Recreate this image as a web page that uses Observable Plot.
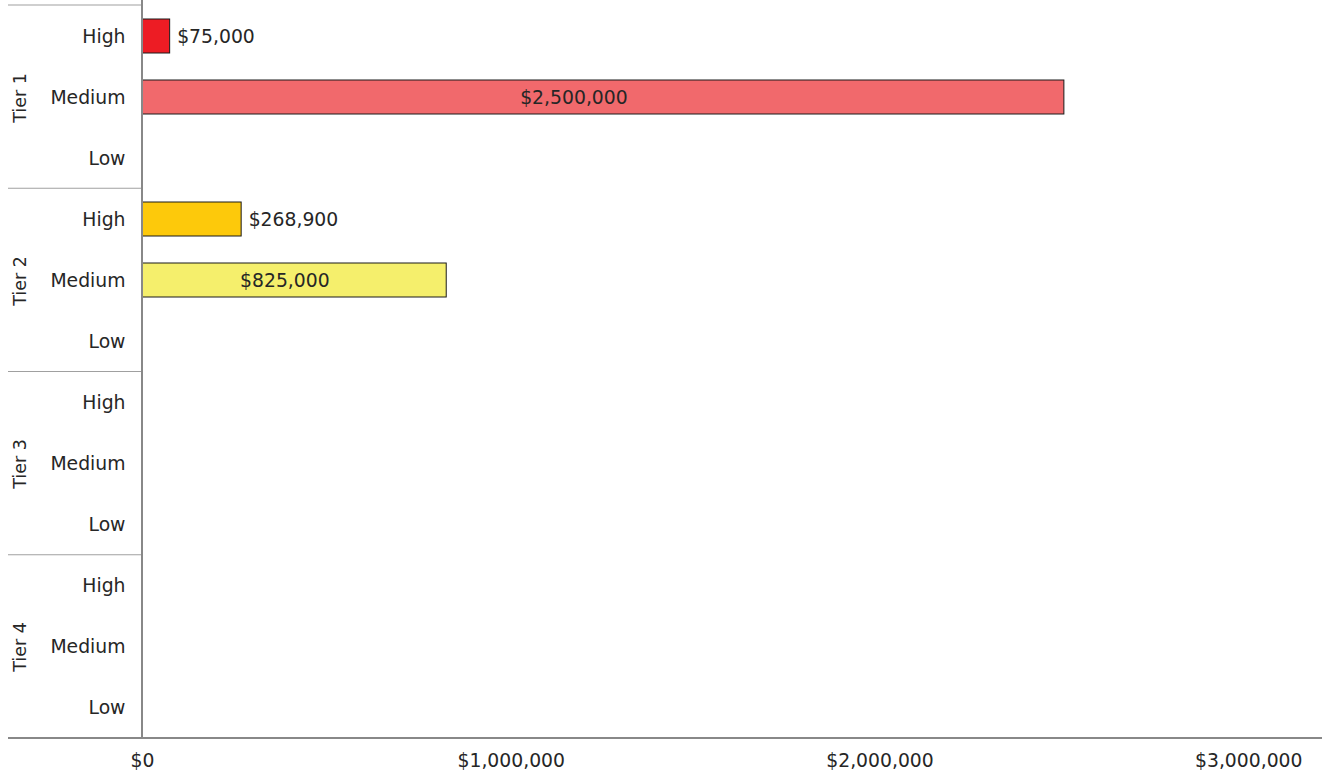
<!DOCTYPE html>
<html>
<head>
<meta charset="utf-8">
<script src="https://cdn.jsdelivr.net/npm/d3@7"></script>
<script src="https://cdn.jsdelivr.net/npm/@observablehq/plot@0.6"></script>
<style>
  html, body { margin: 0; padding: 0; background: #fff; }
  #chart svg { display: block; }
</style>
</head>
<body>
<div id="chart"></div>
<script>
// ---- data ----
const tiers = ["Tier 1", "Tier 2", "Tier 3", "Tier 4"];
const priorities = ["High", "Medium", "Low"];
const barTier = ["Tier 1", "Tier 1", "Tier 2", "Tier 2"];
const barPriority = ["High", "Medium", "High", "Medium"];
const barValue = [75000, 2500000, 268900, 825000];
const barColor = ["#ed1c24", "#f1696c", "#fdc90b", "#f5ef6c"];
const labelInside = [false, true, false, true];
const xTicks = [0, 1000000, 2000000, 3000000];
const xMax = 3200000;

const data = barValue.map((v, i) => ({
  tier: barTier[i], priority: barPriority[i], value: v,
  color: barColor[i], inside: labelInside[i]
}));
const money = d => "$" + d3.format(",")(d);

const chart = Plot.plot({
  width: 1322,
  height: 775,
  marginLeft: 142,
  marginRight: 0,
  marginTop: 5,
  marginBottom: 37,
  style: { fontFamily: "'DejaVu Sans', sans-serif", fontSize: "18.8px", color: "#262626", background: "#fff" },
  x: { domain: [0, xMax], ticks: xTicks, tickFormat: money, tickSize: 0, tickPadding: 15, label: null },
  y: { domain: priorities, paddingInner: 0.44, paddingOuter: 0.22, tickSize: 0, tickPadding: 17, label: null },
  fy: { domain: tiers, padding: 0, axis: null, label: null },
  color: { type: "identity" },
  marks: [
    Plot.barX(data, { x: "value", y: "priority", fy: "tier", fill: "color", stroke: "#1a1a1a", strokeWidth: 1 }),
    Plot.text(data.filter(d => !d.inside), { x: "value", y: "priority", fy: "tier", text: d => money(d.value), textAnchor: "start", dx: 7, fill: "#262626" }),
    Plot.text(data.filter(d => d.inside), { x: d => d.value * 0.468, y: "priority", fy: "tier", text: d => money(d.value), textAnchor: "middle", fill: "#262626" }),
    Plot.text(tiers, { fy: d => d, text: d => d, frameAnchor: "left", dx: -122, rotate: -90, textAnchor: "middle", fontSize: 17.5, fill: "#262626" })
  ]
});

document.getElementById("chart").appendChild(chart);

// decorative frame lines derived from the plot's scales
(function () {
  const svg = d3.select(chart);
  const xs = chart.scale("x");
  const fys = chart.scale("fy");
  const xa = xs.range[0], xb = xs.range[1];
  const yTop = fys.range[0], yBottom = fys.range[1];
  const step = (yBottom - yTop) / fys.domain.length;
  const g = svg.append("g");
  fys.domain.forEach((_, i) => {
    g.append("line").attr("x1", 8).attr("x2", xa)
      .attr("y1", yTop + i * step).attr("y2", yTop + i * step)
      .attr("stroke", "#a0a0a0").attr("stroke-width", 1.2);
  });
  g.append("line").attr("x1", 8).attr("x2", xb)
    .attr("y1", yBottom).attr("y2", yBottom)
    .attr("stroke", "#888").attr("stroke-width", 2);
  g.append("line").attr("x1", xa).attr("x2", xa)
    .attr("y1", 0).attr("y2", yBottom)
    .attr("stroke", "#888").attr("stroke-width", 2);
})();
</script>
</body>
</html>
